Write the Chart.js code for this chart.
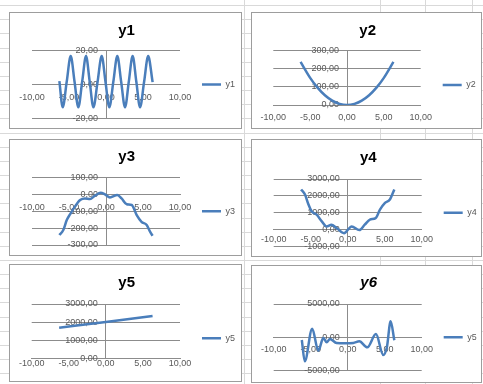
<!DOCTYPE html>
<html>
<head>
<meta charset="utf-8">
<script src="https://cdn.jsdelivr.net/npm/chart.js@4.4.1/dist/chart.umd.min.js"></script>
<style>
  html, body { margin: 0; padding: 0; background: #fff; width: 483px; height: 384px; overflow: hidden; position: relative; }
  .cell-line { position: absolute; background: #d9d9d9; }
  .panel { position: absolute; border: 1px solid #9d9d9d; background: #fff; box-sizing: border-box; }
  .panel canvas { position: absolute; left: 0; top: 0; }
</style>
</head>
<body>
<script>
// ---- series data (x, y pairs) ----
const y1X = [-6.3, -5.85, -5.31, -4.77, -4.25, -3.74, -3.22, -2.7, -2.2, -1.7, -1.14, -0.58, -0.07, 0.45, 0.99, 1.53, 2.05, 2.57, 3.08, 3.6, 4.1, 4.6, 5.15, 5.7, 6.3];
const y1Y = [2, -13.5, 1.6, 16.8, 1.6, -13.5, 1.6, 16.8, 1.6, -13.5, 1.6, 16.8, 1.6, -13.5, 1.6, 16.8, 1.6, -13.5, 1.6, 16.8, 1.6, -13.5, 1.6, 16.8, 1.4];

const y2X = [-6.3, -5, -4, -3, -2, -1, 0, 1, 2, 3, 4, 5, 6.3];
const y2Y = [238, 150, 96, 54, 24, 6, 0, 6, 24, 54, 96, 150, 238];

const y3X = [-6.3, -5.77, -5.3, -4.86, -4.2, -3.5, -2.84, -2.16, -1.5, -0.72, -0.14, 0.54, 1.53, 2.1, 2.8, 3.47, 4.15, 4.8, 5.5, 5.95, 6.3];
const y3Y = [-241, -211, -152, -118, -72, -33, -23, -27, -7, 11, 1, -17, -3, -23, -58, -62, -122, -162, -181, -221, -245];

const y4X = [-6.3, -5.77, -5.3, -4.87, -4.2, -3.5, -2.84, -2.2, -1.5, -0.5, 0.54, 1.57, 2.3, 3.0, 3.8, 4.36, 5.04, 5.7, 6.3];
const y4Y = [2380, 2080, 1490, 1090, 890, 500, 200, 300, 100, -200, 200, -20, 300, 600, 700, 1190, 1590, 1790, 2380];

const y5X = [-6.3, 0, 6.3];
const y5Y = [1690, 2000, 2340];

const y6X = [-6.2, -5.8, -4.8, -3.97, -3.3, -2.84, -2.4, -1.5, -0.36, 0.76, 1.57, 2.65, 3.82, 4.8, 5.3, 5.8, 6.3];
const y6Y = [-400, -3600, 1300, -2000, -100, -750, -250, -850, -900, -850, -600, -1500, 500, -2650, -1450, 2400, -450];

// ---- titles, legend labels and axis ranges ----
const titles = ['y1', 'y2', 'y3', 'y4', 'y5', 'y6'];
const legendLabels = ['y1', 'y2', 'y3', 'y4', 'y5', 'y5'];
const xRange = [-10, 10, 5];
const yRanges = [[-20, 20, 20], [0, 300, 100], [-300, 100, 100], [-1000, 3000, 1000], [0, 3000, 1000], [-5000, 5000, 5000]];
const seriesX = [y1X, y2X, y3X, y4X, y5X, y6X];
const seriesY = [y1Y, y2Y, y3Y, y4Y, y5Y, y6Y];

// ---- panel layout on the sheet: box [left, top, width, height], plot [x(-10), x(10), y(max), y(min)] ----
const layouts = [
  { box: [9, 12, 233, 117],   plot: [32, 180, 50.7, 118.3],    titleX: 126.5, titleY: 31,    legendEnd: 235,   legendShift: 0,    xGap: 13 },
  { box: [251, 12, 231, 117], plot: [273.3, 420.7, 50.7, 105], titleX: 367.7, titleY: 31,    legendEnd: 475.7, legendShift: 7.15, xGap: 12.3 },
  { box: [9, 139, 233, 117],  plot: [32, 180, 177.7, 245],     titleX: 126.7, titleY: 156.7, legendEnd: 235,   legendShift: 0,    xGap: 12.6 },
  { box: [251, 139, 231, 118], plot: [273.7, 421.7, 179, 246.7], titleX: 368.3, titleY: 158.3, legendEnd: 476.7, legendShift: 0,  xGap: 10 },
  { box: [9, 264, 233, 118],  plot: [31.7, 180, 304, 358.3],   titleX: 126.7, titleY: 283.3, legendEnd: 235,   legendShift: 7.15, xGap: 5 },
  { box: [251, 265, 231, 118], plot: [273.7, 421.7, 304, 370.7], titleX: 368.7, titleY: 283.3, legendEnd: 476.7, legendShift: 0,  xGap: 11.7 }
];

const FONT = "'Liberation Sans', Arial, sans-serif";
const TICK_SIZE = 9;
const TITLE_SIZE = 15;
const TITLE_LH = TITLE_SIZE * 1.2;
const LEGEND_LINE = 19;
const Y_LABEL_GAP = 8;
const LINE_COLOR = '#4a7ebb';
const GRID_COLOR = '#8c8c8c';
const TEXT_COLOR = '#595959';

// spreadsheet cell borders behind the charts
function sheetLine(x, y, w, h) {
  const d = document.createElement('div');
  d.className = 'cell-line';
  Object.assign(d.style, { left: x + 'px', top: y + 'px', width: w + 'px', height: h + 'px' });
  document.body.appendChild(d);
}
for (let k = 0; k < 27; k++) sheetLine(0, Math.round(5.1 + 14.16 * k), 483, 1);
[244, 380, 425, 472].forEach(x => sheetLine(x, 0, 1, 384));

const fmt = v => Number(v).toFixed(2).replace('.', ',');
const measure = document.createElement('canvas').getContext('2d');

// Value labels of an axis that crosses the plot sit flush against the axis line;
// move them left so they keep a small gap from it.
const yLabelGapPlugin = {
  id: 'yLabelGap',
  beforeDraw(chart) {
    const items = chart.scales.y.getLabelItems();
    if (items._shifted) return;
    items.forEach(it => { it.options.translation[0] -= Y_LABEL_GAP; });
    items._shifted = true;
  }
};

layouts.forEach((L, i) => {
  const [bl, bt, bw, bh] = L.box;
  const panel = document.createElement('div');
  panel.className = 'panel';
  Object.assign(panel.style, { left: bl + 'px', top: bt + 'px', width: bw + 'px', height: bh + 'px' });
  const cw = bw - 2, ch = bh - 2;
  const canvas = document.createElement('canvas');
  canvas.width = cw; canvas.height = ch;
  canvas.style.width = cw + 'px'; canvas.style.height = ch + 'px';
  panel.appendChild(canvas);
  document.body.appendChild(panel);

  const ox = bl + 1, oy = bt + 1;
  const areaL = L.plot[0] - ox, areaR = L.plot[1] - ox;
  const areaT = L.plot[2] - oy, areaB = L.plot[3] - oy;

  measure.font = TICK_SIZE + 'px ' + FONT;
  const textW = measure.measureText(legendLabels[i]).width;
  const padR = ox + cw - L.legendEnd;
  const padL = 2 * (L.titleX - ox) - cw + padR;
  const legendW = cw - padR - areaR;
  const legendGap = legendW - LEGEND_LINE - TICK_SIZE / 2 - textW;
  const titleTop = L.titleY - oy - TITLE_LH / 2;
  const titleBottom = areaT - titleTop - TITLE_LH;
  const [yMin, yMax, yStep] = yRanges[i];

  new Chart(canvas, {
    type: 'line',
    data: {
      datasets: [{
        label: legendLabels[i],
        data: seriesX[i].map((x, j) => ({ x, y: seriesY[i][j] })),
        xAxisID: 'x',
        yAxisID: 'y',
        borderColor: LINE_COLOR,
        backgroundColor: LINE_COLOR,
        borderWidth: 2.5,
        pointRadius: 0,
        fill: false,
        cubicInterpolationMode: 'monotone'
      }]
    },
    plugins: [yLabelGapPlugin],
    options: {
      responsive: false,
      animation: false,
      devicePixelRatio: 1,
      events: [],
      layout: { padding: { left: padL, right: padR, top: 0, bottom: ch - areaB } },
      scales: {
        x: {
          type: 'linear', min: xRange[0], max: xRange[1], position: { y: 0 },
          ticks: { stepSize: xRange[2], padding: L.xGap - TICK_SIZE * 0.6, callback: fmt, maxRotation: 0, autoSkip: false,
                   color: TEXT_COLOR, font: { family: FONT, size: TICK_SIZE } },
          grid: { drawOnChartArea: false, drawTicks: false },
          border: { color: GRID_COLOR, width: 1 }
        },
        y: {
          type: 'linear', min: yMin, max: yMax, position: { x: 0 },
          ticks: { stepSize: yStep, callback: fmt, color: TEXT_COLOR, font: { family: FONT, size: TICK_SIZE } },
          grid: { color: GRID_COLOR, lineWidth: 1, drawTicks: false },
          border: { color: GRID_COLOR, width: 1 }
        },
        gutter: {
          type: 'linear', position: 'left', display: true,
          ticks: { display: false }, grid: { display: false, drawTicks: false }, border: { display: false },
          afterFit: s => { s.width = areaL - padL; }
        }
      },
      plugins: {
        tooltip: { enabled: false },
        title: {
          display: true, text: titles[i], color: '#000',
          font: { family: FONT, size: TITLE_SIZE, weight: 'bold', style: i === 5 ? 'italic' : 'normal' },
          padding: { top: titleTop, bottom: titleBottom }
        },
        legend: {
          position: 'right', fullSize: false, maxWidth: legendW,
          title: { display: L.legendShift > 0, text: ' ', padding: 0, font: { size: L.legendShift * 2, lineHeight: 1 } },
          labels: {
            usePointStyle: true, pointStyle: 'line', pointStyleWidth: LEGEND_LINE,
            padding: legendGap, color: TEXT_COLOR, font: { family: FONT, size: TICK_SIZE }
          }
        }
      }
    }
  });
});
</script>
</body>
</html>
